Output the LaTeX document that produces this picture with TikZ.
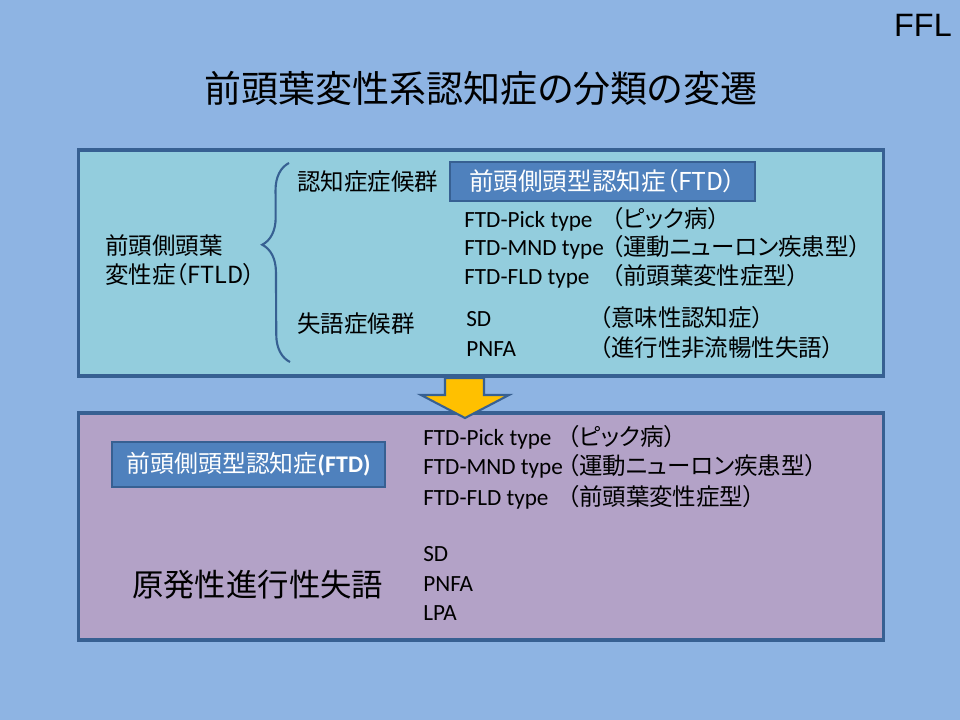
\documentclass[tikz,border=0pt]{standalone}
\usepackage{fontspec}
\usepackage{xcolor}
\usetikzlibrary{decorations.pathreplacing}
\setmainfont{Carlito}
\newfontfamily\jp[RawFeature=+palt]{Noto Sans CJK JP}
\newfontfamily\arl{Liberation Sans}
\definecolor{bgblue}{RGB}{142,180,227}
\definecolor{upfill}{RGB}{147,205,221}
\definecolor{lowfill}{RGB}{179,162,199}
\definecolor{edgeblue}{RGB}{55,96,146}
\definecolor{tagblue}{RGB}{79,129,189}
\definecolor{arrowgold}{RGB}{255,192,0}

\begin{document}
\begin{tikzpicture}[x=0.025cm,y=-0.025cm,
  panel/.style={draw=edgeblue,line width=2.2pt,inner sep=0pt},
  tag/.style={draw=edgeblue,line width=1.5pt,fill=tagblue,text=white,inner sep=0pt},
  item/.style={anchor=base west,inner sep=0pt,font=\fontsize{16.5}{20}\selectfont},
  jpitem/.style={item,font=\jp\fontsize{16.7}{20}\selectfont}]
\useasboundingbox[fill=bgblue] (0,0) rectangle (960,720);
% heading
\node (ffl) at (952,25) [anchor=east,inner sep=0pt,font=\arl\fontsize{23}{26}\selectfont] {FFL};
\node (title) at (481,88) [inner sep=0pt,font=\jp\fontsize{26.3}{31}\selectfont] {前頭葉変性系認知症の分類の変遷};
% upper panel
\node (upper) at (481,263) [panel,fill=upfill,minimum width=20.1cm,minimum height=5.65cm] {};
\node (ftd1) at (602.5,181.5) [tag,minimum width=7.625cm,minimum height=0.975cm,font=\jp\fontsize{17.5}{20}\selectfont] {前頭側頭型認知症（FTD）};
\node (ftld1) at (105,255) [jpitem] {前頭側頭葉};
\node (ftld2) at (105,284) [jpitem] {変性症（FTLD）};
\node (cog) at (297,191) [jpitem] {認知症症候群};
\node (aph) at (297,333) [jpitem] {失語症候群};
\node (pick1) at (464,228) [item] {FTD-Pick type};
\node (pick1j) at (611,228) [jpitem] {（ピック病）};
\node (mnd1) at (464,256) [item] {FTD-MND type};
\node (mnd1j) at (611,256) [jpitem] {（運動ニューロン疾患型）};
\node (fld1) at (464,285) [item] {FTD-FLD type};
\node (fld1j) at (611,285) [jpitem] {（前頭葉変性症型）};
\node (sd1) at (466,327) [item] {SD};
\node (sd1j) at (599,327) [jpitem] {（意味性認知症）};
\node (pnfa1) at (466,357) [item] {PNFA};
\node (pnfa1j) at (599,357) [jpitem] {（進行性非流暢性失語）};
\draw[edgeblue,line width=1.5pt,decorate,decoration={brace,amplitude=0.68cm,aspect=0.59}] (290,362) -- (289,163);
% lower panel
\node (lower) at (481,526.5) [panel,fill=lowfill,minimum width=20.1cm,minimum height=5.675cm] {};
\node (ftd2) at (248.5,464.5) [tag,minimum width=6.825cm,minimum height=1.125cm,font=\bfseries\fontsize{17}{20}\selectfont] {{\jp\mdseries\fontsize{17}{20}\selectfont 前頭側頭型認知症}(FTD)};
\node (ppa) at (132,585) [anchor=west,inner sep=0pt,font=\jp\fontsize{22.3}{26}\selectfont] {原発性進行性失語};
\node (pick2) at (423,446) [item] {FTD-Pick type};
\node (pick2j) at (567,446) [jpitem] {（ピック病）};
\node (mnd2) at (423,475) [item] {FTD-MND type};
\node (mnd2j) at (567,475) [jpitem] {（運動ニューロン疾患型）};
\node (fld2) at (423,505) [item] {FTD-FLD type};
\node (fld2j) at (567,505) [jpitem] {（前頭葉変性症型）};
\node (sd2) at (423,561) [item] {SD};
\node (pnfa2) at (423,591) [item] {PNFA};
\node (lpa2) at (423,620) [item] {LPA};
% arrow between panels
\draw[edgeblue,line width=1.5pt,fill=arrowgold,line join=miter]
  (445,378) -- (484,378) -- (484,395) -- (509,395) -- (465,418) -- (421,395) -- (445,395) -- cycle;
\end{tikzpicture}
\end{document}
